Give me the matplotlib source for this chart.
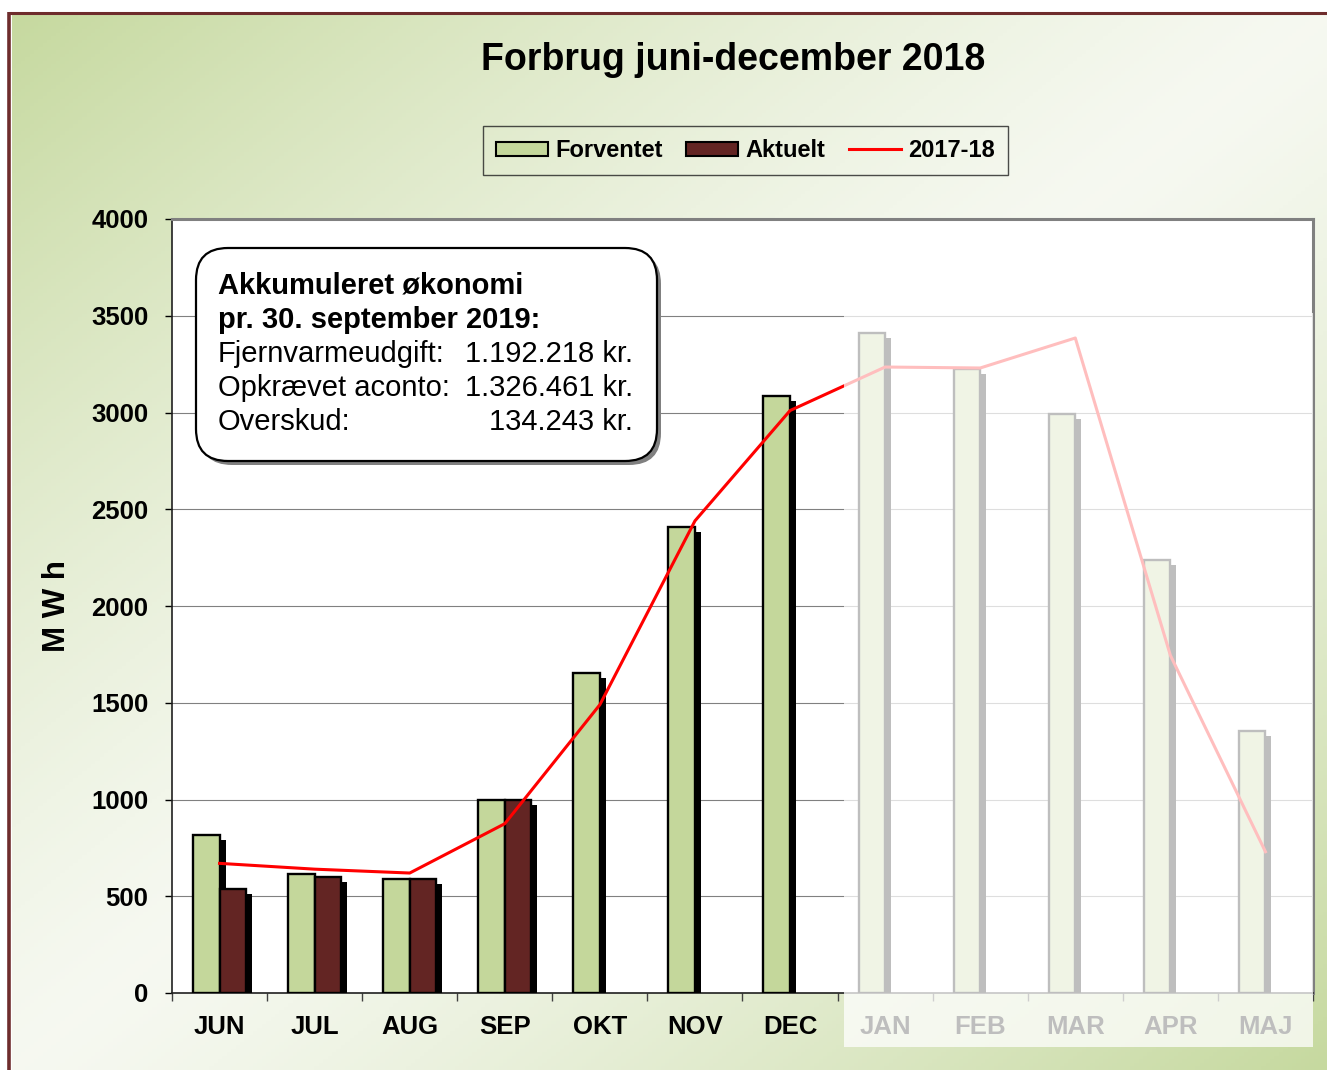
import numpy as np
import matplotlib
matplotlib.use("Agg")
from matplotlib import pyplot as plt
from matplotlib import patheffects as pe
from matplotlib.patches import Rectangle, FancyBboxPatch, Patch
from matplotlib.lines import Line2D
from matplotlib.colors import to_rgb

plt.rcParams['font.family'] = ['Liberation Sans', 'DejaVu Sans']

months = ['JUN', 'JUL', 'AUG', 'SEP', 'OKT', 'NOV', 'DEC',
          'JAN', 'FEB', 'MAR', 'APR', 'MAJ']
forventet = [815, 615, 590, 1000, 1655, 2410, 3085, 3410, 3225, 2990, 2240, 1355]
aktuelt = [540, 600, 590, 1000] + [np.nan] * 8
prev_year = [670, 640, 620, 875, 1490, 2440, 3010, 3235, 3230, 3385, 1745, 730]
yticks = list(range(0, 4001, 500))

green = '#c4d79b'
darkred = '#632523'

W, H = 1327, 1070
fig = plt.figure(figsize=(W / 100, H / 100), dpi=100)
fig.patch.set_facecolor('white')

# background gradient (diagonal: green - light - green)
bg = fig.add_axes([12 / W, 0, (W - 12) / W, (H - 15) / H], zorder=-10)
bg.set_axis_off()
gx, gy = np.meshgrid(np.linspace(0, 1, 300), np.linspace(0, 1, 300))
t = (gx + gy) / 2
k = np.abs(t - 0.5) * 2          # 1 at corners, 0 in middle
k = k ** 1.3
c1 = np.array(to_rgb('#c6d99f'))
c2 = np.array([0.965, 0.975, 0.945])
img = c2[None, None, :] * (1 - k[..., None]) + c1[None, None, :] * k[..., None]
bg.imshow(img, aspect='auto', extent=[0, 1, 1, 0])

# main chart
ax = fig.add_axes([172 / W, (H - 993) / H, 1141 / W, 774 / H])
ax.set_facecolor('white')
x = np.arange(len(months))
bw = 0.28
shadow = [pe.SimplePatchShadow(offset=(4.3, -3.6), shadow_rgbFace='black', alpha=1.0), pe.Normal()]
b1 = ax.bar(x - bw / 2, forventet, bw, color=green, edgecolor='black', linewidth=1.7, zorder=3)
b2 = ax.bar(x + bw / 2, aktuelt, bw, color=darkred, edgecolor='black', linewidth=1.7, zorder=3)
for r in list(b1) + list(b2):
    r.set_path_effects(shadow)
ax.plot(x, prev_year, color='red', linewidth=2.2, zorder=4)

ax.set_xlim(-0.5, len(months) - 0.5)
ax.set_ylim(0, 4000)
ax.set_yticks(yticks)
ax.set_yticklabels([str(v) for v in yticks], fontsize=18.5, fontweight='bold')
ax.set_xticks(np.arange(-0.5, len(months), 1.0))
ax.set_xticklabels([])
ax.set_xticks(x, labels=months, minor=True)
for lab in ax.get_xticklabels(minor=True):
    lab.set_fontsize(18.5)
    lab.set_fontweight('bold')
ax.tick_params(axis='x', which='minor', length=0, pad=16)
ax.tick_params(axis='x', which='major', length=6, width=1, color='#404040', direction='out')
ax.tick_params(axis='y', length=5, width=1, pad=12, direction='out')
ax.grid(axis='y', color='#808080', linewidth=0.8, zorder=0)
ax.set_axisbelow(True)
for s in ['left', 'bottom']:
    ax.spines[s].set_color('#202020')
    ax.spines[s].set_linewidth(1.2)
for s in ['top', 'right']:
    ax.spines[s].set_color('#808080')
    ax.spines[s].set_linewidth(2.2)
ax.set_ylabel('M W h', fontsize=22.5, fontweight='bold', labelpad=14)

# overlay layer in pixel coordinates
top = fig.add_axes([0, 0, 1, 1], zorder=5)
top.set_xlim(0, W)
top.set_ylim(H, 0)
top.set_axis_off()
top.patch.set_alpha(0)

# frame border
top.plot([9, 9], [12, H], color='#6e2c2c', linewidth=2.6, solid_capstyle='butt')
top.plot([9, W], [13, 13], color='#6e2c2c', linewidth=2.2, solid_capstyle='butt')

# fade the months that have not come yet
top.add_patch(Rectangle((844, 313), 1313 - 844, 1047 - 313, facecolor='white', alpha=0.75,
                        edgecolor='none'))

# text box
top.add_patch(FancyBboxPatch((200, 252), 461, 213, boxstyle='round,pad=0,rounding_size=32',
                             facecolor='#808080', edgecolor='none'))
top.add_patch(FancyBboxPatch((196, 248), 461, 213, boxstyle='round,pad=0,rounding_size=32',
                             facecolor='white', edgecolor='black', linewidth=1.6))
top.text(218, 286, 'Akkumuleret økonomi', fontsize=21, fontweight='bold', va='center')
top.text(218, 320, 'pr. 30. september 2019:', fontsize=21, fontweight='bold', va='center')
rows = [('Fjernvarmeudgift:', '1.192.218 kr.'),
        ('Opkrævet aconto:', '1.326.461 kr.'),
        ('Overskud:', '134.243 kr.')]
for i, (lbl, val) in enumerate(rows):
    yy = 354 + 34 * i
    top.text(218, yy, lbl, fontsize=21, va='center')
    top.text(633, yy, val, fontsize=21, va='center', ha='right')

# title
fig.text(733 / W, 1 - 60 / H, 'Forbrug juni-december 2018', fontsize=27, fontweight='bold',
         ha='center', va='center')

# legend
handles = [Patch(facecolor=green, edgecolor='black', linewidth=1.5),
           Patch(facecolor=darkred, edgecolor='black', linewidth=1.5),
           Line2D([0], [0], color='red', linewidth=2.2)]
leg = fig.legend(handles, ['Forventet', 'Aktuelt', '2017-18'], ncol=3, loc='center',
                 bbox_to_anchor=(745.5 / W, 1 - 150.5 / H),
                 prop={'size': 17, 'weight': 'bold'}, frameon=True, fancybox=False,
                 handlelength=2.2, handleheight=0.55, handletextpad=0.3, columnspacing=1.0,
                 borderpad=0.55)
leg.get_frame().set_facecolor('none')
leg.get_frame().set_edgecolor('#202020')
leg.get_frame().set_linewidth(1.0)

fig.savefig('out.png', dpi=100)
